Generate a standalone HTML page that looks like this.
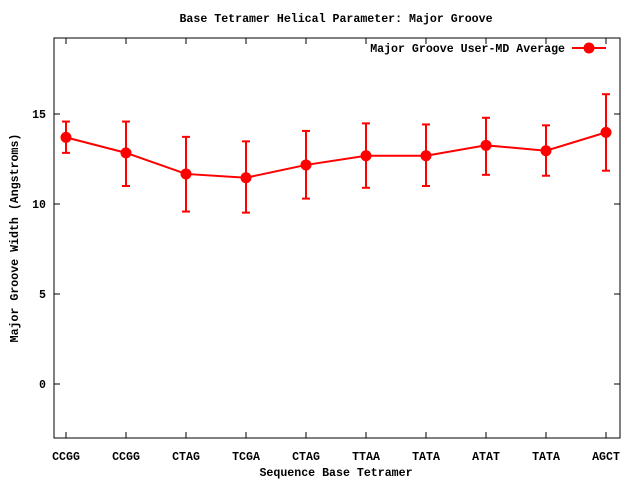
<!DOCTYPE html>
<html><head><meta charset="utf-8"><style>
body{margin:0;background:#fff}
svg text{font-family:"Liberation Mono",monospace;font-weight:bold;font-size:11.6px;fill:#000}
</style></head><body>
<svg width="640" height="480" xmlns="http://www.w3.org/2000/svg">
<rect x="0" y="0" width="640" height="480" fill="#fff"/>
<g id="axes"></g>
<g id="series"></g>
<text x="336" y="22" text-anchor="middle">Base Tetramer Helical Parameter: Major Groove</text>
<text x="336" y="476" text-anchor="middle">Sequence Base Tetramer</text>
<text transform="translate(18,238) rotate(-90)" text-anchor="middle">Major Groove Width (Angstroms)</text>
<g>
<text x="565" y="52" text-anchor="end">Major Groove User-MD Average</text>
<line x1="572" y1="48" x2="606" y2="48" stroke="#f00" stroke-width="2"/>
<circle cx="589" cy="48" r="5.5" fill="#f00"/>
</g>
</svg>
<script>
const categories=["CCGG","CCGG","CTAG","TCGA","CTAG","TTAA","TATA","ATAT","TATA","AGCT"];
const averages=[13.7,12.84,11.67,11.46,12.17,12.68,12.68,13.26,12.96,13.98];
const errHigh=[14.58,14.58,13.73,13.48,14.06,14.48,14.42,14.79,14.37,16.1];
const errLow=[12.84,11.0,9.58,9.52,10.3,10.9,11.0,11.62,11.57,11.85];
const yTicks=[0,5,10,15];
const NS="http://www.w3.org/2000/svg";
const L=54,R=620,T=38,B=438;
function xs(i){return 66+i*60;}
function ys(v){return 384-v*18;}
function mk(tag,attrs,parent){const e=document.createElementNS(NS,tag);for(const k in attrs)e.setAttribute(k,attrs[k]);parent.appendChild(e);return e;}
const ax=document.getElementById('axes'), se=document.getElementById('series');
const frame=mk('rect',{x:L,y:T,width:R-L,height:B-T,fill:'none',stroke:'#000','stroke-width':1},ax);


yTicks.forEach(v=>{
  const y=ys(v);
  mk('line',{x1:L,y1:y,x2:L+6,y2:y,stroke:'#000'},ax);
  mk('line',{x1:R-6,y1:y,x2:R,y2:y,stroke:'#000'},ax);
  const t=mk('text',{x:L-8,y:y+4,'text-anchor':'end'},ax);
  t.textContent=v;
  
  
});
categories.forEach((c,i)=>{
  const x=xs(i);
  mk('line',{x1:x,y1:B,x2:x,y2:B-6,stroke:'#000'},ax);
  mk('line',{x1:x,y1:T,x2:x,y2:T+6,stroke:'#000'},ax);
  const t=mk('text',{x:x,y:B+22,'text-anchor':'middle'},ax);
  t.textContent=c;
  
  
});
const pts=averages.map((v,i)=>xs(i)+','+ys(v)).join(' ');
const line=mk('polyline',{points:pts,fill:'none',stroke:'#f00','stroke-width':2},se);


averages.forEach((v,i)=>{
  const x=xs(i);
  const g=mk('g',{},se);
  
  
  mk('line',{x1:x,y1:ys(errHigh[i]),x2:x,y2:ys(errLow[i]),stroke:'#f00','stroke-width':2},g);
  mk('line',{x1:x-4,y1:ys(errHigh[i]),x2:x+4,y2:ys(errHigh[i]),stroke:'#f00','stroke-width':2},g);
  mk('line',{x1:x-4,y1:ys(errLow[i]),x2:x+4,y2:ys(errLow[i]),stroke:'#f00','stroke-width':2},g);
  const c=mk('circle',{cx:x,cy:ys(v),r:5.5,fill:'#f00'},se);
  
  
});
</script>
</body></html>
